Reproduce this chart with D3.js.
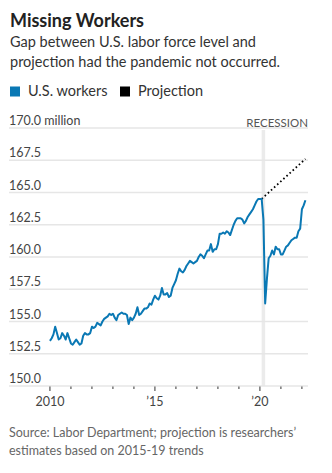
<!DOCTYPE html>
<html>
<head>
<meta charset="utf-8">
<script src="https://cdn.jsdelivr.net/npm/d3@7"></script>
<style>
  body { margin: 0; background: #fff; }
  svg { display: block; font-family: Lato, "Open Sans", sans-serif; }
</style>
</head>
<body>
<svg id="chart" width="332" height="473"></svg>
<script>
// civilian labor force, millions, monthly from Jan 2010 through Mar 2022
var startYear = 2010;
var laborForce = [
  153.5, 153.7, 154.0, 154.6, 154.1, 153.6, 153.7, 154.1, 153.9, 153.6, 154.1, 153.7, // 2010
  153.3, 153.2, 153.4, 153.6, 153.4, 153.2, 153.3, 153.9, 154.1, 154.0, 154.0, 154.1, // 2011
  154.6, 154.5, 154.6, 154.9, 154.8, 154.7, 155.0, 155.2, 155.3, 155.4, 155.6, 155.5, // 2012
  155.6, 155.3, 155.1, 155.5, 155.6, 155.7, 155.6, 155.6, 155.5, 154.8, 155.3, 155.1, // 2013
  155.3, 155.6, 156.1, 155.5, 155.6, 155.8, 156.0, 156.0, 156.1, 156.4, 156.3, 156.7, // 2014
  157.0, 156.8, 156.7, 157.0, 157.6, 157.1, 157.1, 157.2, 156.9, 157.0, 157.6, 157.9, // 2015
  158.2, 158.7, 159.1, 158.9, 158.8, 159.0, 159.3, 159.5, 159.7, 159.6, 159.5, 159.6, // 2016
  159.7, 160.0, 160.2, 160.1, 159.9, 160.2, 160.5, 160.5, 161.0, 160.4, 160.6, 160.6, // 2017
  161.0, 161.8, 161.8, 161.9, 161.8, 162.0, 161.9, 161.7, 162.1, 162.5, 162.8, 163.0, // 2018
  163.0, 163.0, 162.9, 162.6, 162.8, 163.1, 163.3, 163.5, 163.7, 164.0, 164.3, 164.5, // 2019
  164.5, 164.5, 162.9, 156.4, 158.3, 159.9, 160.1, 160.5, 160.2, 160.8, 160.6, 160.6, // 2020
  160.2, 160.2, 160.5, 160.8, 160.9, 161.1, 161.3, 161.4, 161.5, 161.5, 162.0, 162.2, // 2021
  163.7, 164.0, 164.4                                                                    // 2022
];
// researchers' projection, starting from the pre-pandemic level
var projection = [
  { year: 2020 + 1/12, value: 164.5 },
  { year: 2022 + 2/12, value: 167.6 }
];
var recession = [2020 + 1/12, 2020 + 3/12];
var yTicks = [150, 152.5, 155, 157.5, 160, 162.5, 165, 167.5, 170];
var xTicks = d3.range(2010, 2023);
var xLabels = { 2010: '2010', 2015: '\u201915', 2020: '\u201920' };

var blue = '#0a78b4';
var svg = d3.select('#chart');

var x = d3.scaleLinear().domain([2008.05, 2022.29]).range([9, 308]);
var y = d3.scaleLinear().domain([150, 170]).range([386, 128]);

var series = laborForce.map(function(v, i) {
  return { year: startYear + i / 12, value: v };
});

// headline block
svg.append('text')
  .attr('x', 10).attr('y', 27)
  .attr('font-size', 18).attr('font-weight', 700)
  .attr('fill', '#222')
  .text('Missing Workers');

svg.selectAll('.sub')
  .data(['Gap between U.S. labor force level and',
         'projection had the pandemic not occurred.'])
  .join('text')
  .attr('class', 'sub')
  .attr('x', 10)
  .attr('y', (d, i) => 47 + i * 19.5)
  .attr('font-size', 14.5)
  .attr('fill', '#333')
  .text(d => d);

// legend
var legend = [
  { label: 'U.S. workers', color: blue, x: 10 },
  { label: 'Projection', color: '#000', x: 120 }
];
var lg = svg.selectAll('.legend')
  .data(legend)
  .join('g')
  .attr('class', 'legend')
  .attr('transform', d => 'translate(' + d.x + ',0)');
lg.append('rect')
  .attr('x', 0).attr('y', 86.5)
  .attr('width', 10).attr('height', 10)
  .attr('fill', d => d.color);
lg.append('text')
  .attr('x', 18).attr('y', 96)
  .attr('font-size', 14.5)
  .attr('fill', '#333')
  .text(d => d.label);

// recession shading
svg.append('rect')
  .attr('x', x(recession[0]))
  .attr('y', 130)
  .attr('width', x(recession[1]) - x(recession[0]))
  .attr('height', y(150) - 130)
  .attr('fill', '#ebebeb');

svg.append('text')
  .attr('x', 308).attr('y', 127)
  .attr('text-anchor', 'end')
  .attr('font-size', 11.5)
  .attr('fill', '#555')
  .text('RECESSION');

// horizontal grid with labels
svg.selectAll('.grid')
  .data(yTicks)
  .join('line')
  .attr('class', 'grid')
  .attr('x1', 9).attr('x2', 308)
  .attr('y1', d => y(d)).attr('y2', d => y(d))
  .attr('stroke', '#e6e6e6')
  .attr('stroke-width', 1.5);

svg.selectAll('.ylab')
  .data(yTicks)
  .join('text')
  .attr('class', 'ylab')
  .attr('x', 9)
  .attr('y', d => y(d) - 3)
  .attr('font-size', 12.5)
  .attr('fill', '#444')
  .text(d => d3.format('.1f')(d) + (d === 170 ? ' million' : ''));

// x axis ticks
svg.selectAll('.xtick')
  .data(xTicks)
  .join('line')
  .attr('class', 'xtick')
  .attr('x1', d => x(d)).attr('x2', d => x(d))
  .attr('y1', y(150) + 0.5)
  .attr('y2', d => y(150) + (xLabels[d] ? 5 : 3))
  .attr('stroke', '#333')
  .attr('stroke-width', 1);

svg.selectAll('.xlab')
  .data(xTicks.filter(d => xLabels[d]))
  .join('text')
  .attr('class', 'xlab')
  .attr('x', d => x(d))
  .attr('y', 406)
  .attr('text-anchor', 'middle')
  .attr('font-size', 12.5)
  .attr('fill', '#444')
  .text(d => xLabels[d]);

// projection (dotted)
svg.append('path')
  .datum(projection)
  .attr('fill', 'none')
  .attr('stroke', '#000')
  .attr('stroke-width', 1.8)
  .attr('stroke-dasharray', '1.6,2.6')
  .attr('d', d3.line().x(d => x(d.year)).y(d => y(d.value)));

// labor force line
svg.append('path')
  .datum(series)
  .attr('fill', 'none')
  .attr('stroke', blue)
  .attr('stroke-width', 2)
  .attr('stroke-linejoin', 'round')
  .attr('d', d3.line().x(d => x(d.year)).y(d => y(d.value)));

// source note
svg.selectAll('.note')
  .data(['Source: Labor Department; projection is researchers\u2019',
         'estimates based on 2015-19 trends'])
  .join('text')
  .attr('class', 'note')
  .attr('x', 9)
  .attr('y', (d, i) => 437 + i * 18)
  .attr('font-size', 12.5)
  .attr('fill', '#666')
  .text(d => d);
</script>
</body>
</html>
